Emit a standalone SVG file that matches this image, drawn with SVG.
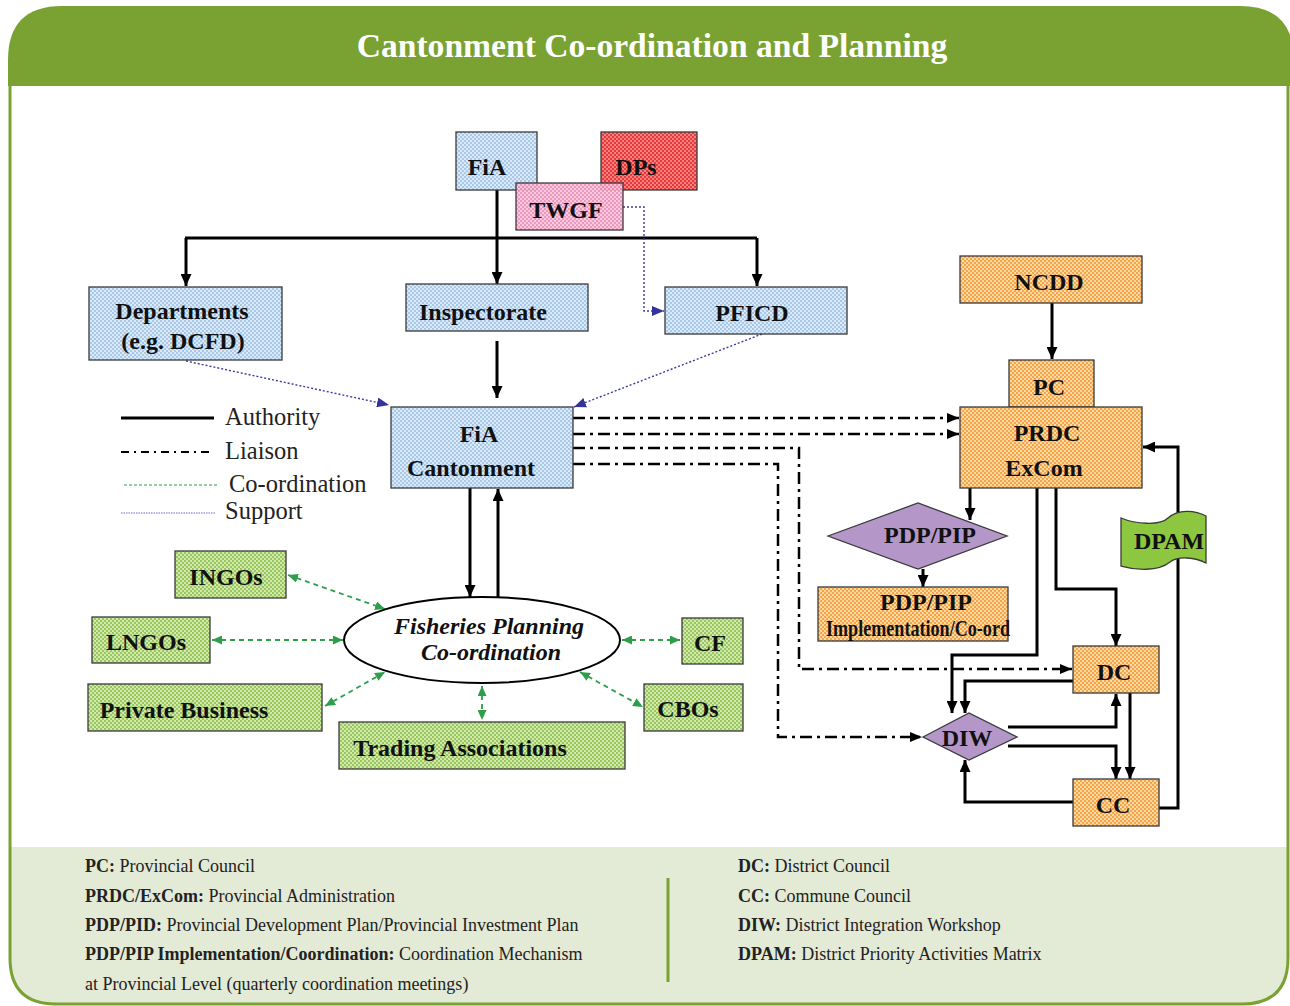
<svg xmlns="http://www.w3.org/2000/svg" width="1290" height="1006" viewBox="0 0 1290 1006">
<style>
.t{font-family:"Liberation Serif","Times New Roman",serif;font-weight:bold;font-size:24px;fill:#111;text-anchor:middle}
.lg{font-family:"Liberation Serif","Times New Roman",serif;font-size:24.5px;fill:#222}
.ft{font-family:"Liberation Serif","Times New Roman",serif;font-size:18px;fill:#222}
.ft tspan.b{font-weight:bold}
.box{stroke:#3a3a3a;stroke-width:1.3}
.auth{fill:none;stroke:#000;stroke-width:3;marker-end:url(#aBlk)}
.auth0{fill:none;stroke:#000;stroke-width:3}
.liai{fill:none;stroke:#000;stroke-width:2.5;stroke-dasharray:12 5 3 5;marker-end:url(#aBlk2)}
.supp{fill:none;stroke:#3b3ba0;stroke-width:1.4;stroke-dasharray:2 2;marker-end:url(#aBlu)}
.coor{fill:none;stroke:#2e9e4a;stroke-width:1.8;stroke-dasharray:5 4;marker-end:url(#aGrn);marker-start:url(#aGrn)}
</style>
<defs>
<marker id="aBlk" markerUnits="userSpaceOnUse" markerWidth="12" markerHeight="11" refX="12" refY="5.5" orient="auto"><path d="M0,0 L12,5.5 L0,11 z" fill="#000"/></marker>
<marker id="aBlk2" markerUnits="userSpaceOnUse" markerWidth="12" markerHeight="10" refX="12" refY="5" orient="auto"><path d="M0,0 L12,5 L0,10 z" fill="#000"/></marker>
<marker id="aBlu" markerUnits="userSpaceOnUse" markerWidth="12" markerHeight="10" refX="12" refY="5" orient="auto"><path d="M0,0 L12,5 L0,10 z" fill="#33339a"/></marker>
<marker id="aGrn" markerUnits="userSpaceOnUse" markerWidth="10" markerHeight="9" refX="10" refY="4.5" orient="auto-start-reverse"><path d="M0,0 L10,4.5 L0,9 z" fill="#2e9e4a"/></marker>
<pattern id="pBlue" width="4" height="4" patternUnits="userSpaceOnUse"><rect width="4" height="4" fill="#dceaf7"/><rect width="2" height="2" fill="#a8c8ea"/><rect x="2" y="2" width="2" height="2" fill="#a8c8ea"/></pattern>
<pattern id="pOra" width="4" height="4" patternUnits="userSpaceOnUse"><rect width="4" height="4" fill="#fcd8a4"/><rect width="2" height="2" fill="#f5a545"/><rect x="2" y="2" width="2" height="2" fill="#f5a545"/></pattern>
<pattern id="pGrn" width="4" height="4" patternUnits="userSpaceOnUse"><rect width="4" height="4" fill="#d2e8ae"/><rect width="2" height="2" fill="#98c85c"/><rect x="2" y="2" width="2" height="2" fill="#98c85c"/></pattern>
<pattern id="pRed" width="4" height="4" patternUnits="userSpaceOnUse"><rect width="4" height="4" fill="#f78080"/><rect width="2" height="2" fill="#e83a3a"/><rect x="2" y="2" width="2" height="2" fill="#e83a3a"/></pattern>
<pattern id="pPink" width="4" height="4" patternUnits="userSpaceOnUse"><rect width="4" height="4" fill="#f9c6dc"/><rect width="2" height="2" fill="#ee8fb8"/><rect x="2" y="2" width="2" height="2" fill="#ee8fb8"/></pattern>
</defs>

<!-- frame -->
<rect x="0" y="0" width="1290" height="1006" fill="#fff"/>
<path d="M9,847 H1288 V958 Q1288,1003 1242,1003 H56 Q11,1003 11,958 Z" fill="#e3ead6"/>
<path d="M10,86 V958 Q10,1004 56,1004 H1242 Q1288,1004 1288,958 V86" fill="none" stroke="#7aa233" stroke-width="3"/>
<path d="M8,86 V60 Q8,6 62,6 H1240 Q1294,6 1294,60 V86 Z" fill="#7aa233"/>
<text x="652" y="57" style="font-family:'Liberation Serif','Times New Roman',serif;font-weight:bold;font-size:33.6px;fill:#fff;text-anchor:middle">Cantonment Co-ordination and Planning</text>

<!-- legend -->
<g id="legend">
<line x1="121" y1="418" x2="214" y2="418" stroke="#000" stroke-width="3"/>
<text class="lg" x="225" y="425">Authority</text>
<line x1="121" y1="452" x2="210" y2="452" stroke="#000" stroke-width="2" stroke-dasharray="8 5 2 5"/>
<text class="lg" x="225" y="459">Liaison</text>
<line x1="124" y1="485" x2="218" y2="485" stroke="#2e9e4a" stroke-width="1.2" stroke-dasharray="3 2"/>
<text class="lg" x="229" y="492">Co-ordination</text>
<line x1="121" y1="513" x2="216" y2="513" stroke="#6a6ad0" stroke-width="1" stroke-dasharray="1.5 1"/>
<text class="lg" x="225" y="519">Support</text>
</g>

<!-- connectors -->
<g id="connectors">
<path class="auth0" d="M497,190 V238"/>
<path class="auth0" d="M185,238 H757"/>
<path class="auth" d="M186,238 V286"/>
<path class="auth" d="M497,238 V284"/>
<path class="auth" d="M757,238 V286"/>
<path class="auth" d="M497,341 V398"/>
<path class="auth" d="M470,488 V597"/>
<path class="auth" d="M498,597 V489"/>
<path class="auth" d="M1052,303 V359"/>
<path class="auth" d="M970,488 V520"/>
<path class="auth" d="M923,569 V587"/>
<path class="auth" d="M1037,488 V655 H952 V713"/>
<path class="auth" d="M1056,488 V589 H1116 V646"/>
<path class="auth" d="M1073,681 H965 V713"/>
<path class="auth" d="M1008,727 H1116 V694"/>
<path class="auth" d="M1008,746 H1116 V779"/>
<path class="auth" d="M1130,693 V779"/>
<path class="auth" d="M1073,802 H965 V760"/>
<path class="auth" d="M1158,808 H1178 V447 H1143"/>
<path class="liai" d="M573,418 H959"/>
<path class="liai" d="M573,434 H959"/>
<path class="liai" d="M573,448 H799 V669 H1072"/>
<path class="liai" d="M573,464 H778 V737 H922"/>
<path class="supp" d="M623,207 H644 V311 H664"/>
<path class="supp" d="M186,361 L389,405"/>
<path class="supp" d="M762,334 L574,407"/>
<path class="coor" d="M288,575 L385,609"/>
<path class="coor" d="M212,640 L343,640"/>
<path class="coor" d="M325,706 L385,672"/>
<path class="coor" d="M482,686 L482,720"/>
<path class="coor" d="M622,640 L680,640"/>
<path class="coor" d="M580,672 L643,707"/>
</g>

<!-- nodes -->
<g id="n-fia"><rect class="box" x="456" y="132" width="81" height="58" fill="url(#pBlue)"/><text class="t" x="487" y="175">FiA</text></g>
<g id="n-dps"><rect class="box" x="601" y="132" width="96" height="58" fill="url(#pRed)"/><text class="t" x="636" y="175">DPs</text></g>
<g id="n-twgf"><rect class="box" x="516" y="183" width="107" height="47" fill="url(#pPink)" fill-opacity="0.92"/><text class="t" x="566" y="218">TWGF</text></g>
<g id="n-dept"><rect class="box" x="89" y="287" width="193" height="73" fill="url(#pBlue)"/><text class="t" x="182" y="319">Departments</text><text class="t" x="183" y="349">(e.g. DCFD)</text></g>
<g id="n-insp"><rect class="box" x="406" y="284" width="182" height="47" fill="url(#pBlue)"/><text class="t" x="483" y="320">Inspectorate</text></g>
<g id="n-pficd"><rect class="box" x="665" y="287" width="182" height="47" fill="url(#pBlue)"/><text class="t" x="752" y="321">PFICD</text></g>
<g id="n-cant"><rect class="box" x="391" y="407" width="182" height="81" fill="url(#pBlue)"/><text class="t" x="479" y="442">FiA</text><text class="t" x="471" y="476">Cantonment</text></g>
<g id="n-fpc"><ellipse cx="482" cy="640" rx="138" ry="43" fill="#fff" stroke="#000" stroke-width="2"/><text class="t" x="489" y="634" font-style="italic">Fisheries Planning</text><text class="t" x="491" y="660" font-style="italic">Co-ordination</text></g>
<g id="n-ingos"><rect class="box" x="175" y="551" width="111" height="47" fill="url(#pGrn)"/><text class="t" x="226" y="585">INGOs</text></g>
<g id="n-lngos"><rect class="box" x="92" y="617" width="118" height="46" fill="url(#pGrn)"/><text class="t" x="146" y="650">LNGOs</text></g>
<g id="n-pb"><rect class="box" x="88" y="684" width="234" height="47" fill="url(#pGrn)"/><text class="t" x="184" y="718">Private Business</text></g>
<g id="n-ta"><rect class="box" x="339" y="722" width="286" height="47" fill="url(#pGrn)"/><text class="t" x="460" y="756">Trading Associations</text></g>
<g id="n-cf"><rect class="box" x="682" y="618" width="61" height="46" fill="url(#pGrn)"/><text class="t" x="710" y="651">CF</text></g>
<g id="n-cbos"><rect class="box" x="644" y="684" width="99" height="47" fill="url(#pGrn)"/><text class="t" x="688" y="717">CBOs</text></g>
<g id="n-ncdd"><rect class="box" x="960" y="256" width="182" height="47" fill="url(#pOra)"/><text class="t" x="1049" y="290">NCDD</text></g>
<g id="n-pc"><rect class="box" x="1009" y="360" width="85" height="47" fill="url(#pOra)"/><text class="t" x="1049" y="395">PC</text></g>
<g id="n-prdc"><rect class="box" x="960" y="407" width="182" height="81" fill="url(#pOra)"/><text class="t" x="1047" y="441">PRDC</text><text class="t" x="1044" y="476">ExCom</text></g>
<g id="n-pdp"><polygon class="box" points="828,536 918,503 1007,536 918,569" fill="#b497c8"/><text class="t" x="930" y="543">PDP/PIP</text></g>
<g id="n-impl"><rect class="box" x="818" y="587" width="190" height="54" fill="url(#pOra)"/><text class="t" x="926" y="610">PDP/PIP</text><text class="t" x="918" y="636" font-size="19" textLength="184" lengthAdjust="spacingAndGlyphs">Implementation/Co-ord</text></g>
<g id="n-dc"><rect class="box" x="1073" y="646" width="86" height="47" fill="url(#pOra)"/><text class="t" x="1114" y="680">DC</text></g>
<g id="n-diw"><polygon class="box" points="923,737 969,713 1017,737 969,760" fill="#b497c8"/><text class="t" x="967" y="746">DIW</text></g>
<g id="n-cc"><rect class="box" x="1073" y="779" width="86" height="47" fill="url(#pOra)"/><text class="t" x="1113" y="813">CC</text></g>
<g id="n-dpam"><path class="box" d="M1121,518 C1135,524 1160,526 1168,518 C1178,509 1195,510 1206,516 L1206,563 C1195,557 1178,556 1170,562 C1158,572 1135,570 1121,566 Z" fill="#8dc63f"/><text class="t" x="1169" y="549">DPAM</text></g>

<!-- footer -->
<g id="footer">
<line x1="668" y1="878" x2="668" y2="982" stroke="#7aa233" stroke-width="3"/>
<text class="ft" x="85" y="872"><tspan class="b">PC:</tspan> Provincial Council</text>
<text class="ft" x="85" y="902"><tspan class="b">PRDC/ExCom:</tspan> Provincial Administration</text>
<text class="ft" x="85" y="931"><tspan class="b">PDP/PID:</tspan> Provincial Development Plan/Provincial Investment Plan</text>
<text class="ft" x="85" y="960"><tspan class="b">PDP/PIP Implementation/Coordination:</tspan> Coordination Mechanism</text>
<text class="ft" x="85" y="990">at Provincial Level (quarterly coordination meetings)</text>
<text class="ft" x="738" y="872"><tspan class="b">DC:</tspan> District Council</text>
<text class="ft" x="738" y="902"><tspan class="b">CC:</tspan> Commune Council</text>
<text class="ft" x="738" y="931"><tspan class="b">DIW:</tspan> District Integration Workshop</text>
<text class="ft" x="738" y="960"><tspan class="b">DPAM:</tspan> District Priority Activities Matrix</text>
</g>
</svg>
